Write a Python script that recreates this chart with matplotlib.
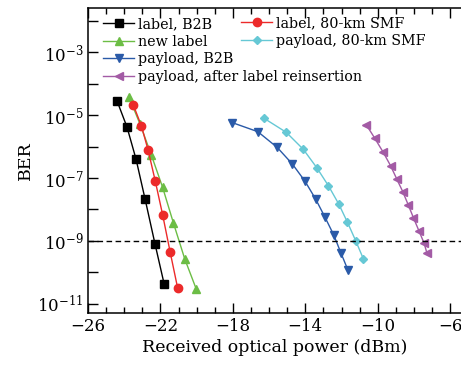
import numpy as np
import matplotlib; matplotlib.use("Agg")
import matplotlib.pyplot as plt
from matplotlib.ticker import FixedLocator, FuncFormatter, MultipleLocator

plt.rcParams["font.family"] = "DejaVu Serif"
plt.rcParams["mathtext.fontset"] = "dejavuserif"

# received optical power (dBm) and log10(BER)
label_b2b_x = [-24.4, -23.85, -23.35, -22.85, -22.3, -21.8]
label_b2b_y = [-4.55, -5.38, -6.40, -7.67, -9.10, -10.36]

label_smf_x = [-23.5, -23.05, -22.68, -22.29, -21.88, -21.47, -21.05]
label_smf_y = [-4.68, -5.35, -6.12, -7.09, -8.17, -9.34, -10.50]

new_label_x = [-23.73, -23.12, -22.51, -21.88, -21.29, -20.66, -20.03]
new_label_y = [-4.44, -5.30, -6.26, -7.30, -8.42, -9.57, -10.52]

payload_b2b_x = [-18.04, -16.62, -15.55, -14.71, -14.02, -13.42, -12.91, -12.43, -12.04, -11.65]
payload_b2b_y = [-5.24, -5.53, -6.03, -6.56, -7.10, -7.68, -8.25, -8.81, -9.37, -9.92]

payload_smf_x = [-16.29, -15.05, -14.11, -13.37, -12.72, -12.15, -11.67, -11.22, -10.80]
payload_smf_y = [-5.10, -5.55, -6.09, -6.67, -7.25, -7.83, -8.41, -8.99, -9.56]

reins_x = [-10.62, -10.16, -9.70, -9.29, -8.95, -8.62, -8.31, -8.03, -7.73, -7.44, -7.29]
reins_y = [-5.32, -5.74, -6.18, -6.61, -7.03, -7.43, -7.86, -8.26, -8.67, -9.07, -9.37]

fec_limit = 1e-9
x_ticks = [-26, -22, -18, -14, -10, -6]
y_exps = list(range(-2, -12, -1))
y_label_exps = [-3, -5, -7, -9, -11]

fig = plt.figure(figsize=(4.61, 3.65), dpi=100)
ax = fig.add_axes([0.191, 0.1425, 0.809, 0.8355])

ms = 6
lw = 1.0
series = [
    (label_b2b_x, label_b2b_y, "s", "#000000", "label, B2B"),
    (new_label_x, new_label_y, "^", "#6cbd45", "new label"),
    (payload_b2b_x, payload_b2b_y, "v", "#2a5aa8", "payload, B2B"),
    (reins_x, reins_y, "<", "#a35ba5", "payload, after label reinsertion"),
    (label_smf_x, label_smf_y, "o", "#ec2a2a", "label, 80-km SMF"),
    (payload_smf_x, payload_smf_y, "D", "#66c8d5", "payload, 80-km SMF"),
]
handles = []
for xs, ys, m, c, name in series:
    msz = ms - 1.5 if m == "D" else ms
    h, = ax.plot(xs, 10.0 ** np.array(ys), marker=m, color=c, lw=lw,
                 ms=msz, mec=c, label=name)
    handles.append(h)

ax.axhline(fec_limit, color="black", lw=1.0, ls=(0, (4, 2.5)))

ax.set_yscale("log")
ax.set_xlim(-26, -5.4)
ax.set_ylim(10 ** -11.29, 10 ** -1.6)

ax.set_xticks(x_ticks)
ax.xaxis.set_minor_locator(MultipleLocator(1))
ax.xaxis.set_major_formatter(FuncFormatter(lambda v, p: f"\u2212{abs(int(v))}" if v < 0 else f"{int(v)}"))
ax.yaxis.set_major_locator(FixedLocator([10.0 ** e for e in y_exps]))
ax.yaxis.set_minor_locator(FixedLocator([]))
ax.yaxis.set_major_formatter(FuncFormatter(
    lambda v, p: f"$10^{{{int(round(np.log10(v)))}}}$" if int(round(np.log10(v))) in y_label_exps else ""))

ax.tick_params(axis="both", which="both", direction="in", top=True, right=False,
               labelsize=12, width=1.0)
ax.tick_params(axis="both", which="major", length=7)
ax.tick_params(axis="x", which="minor", length=4.5)
ax.spines["right"].set_visible(False)
for s in ["left", "bottom", "top"]:
    ax.spines[s].set_linewidth(1.1)

ax.set_xlabel("Received optical power (dBm)", fontsize=12.5, labelpad=3)
ax.set_ylabel("BER", fontsize=12.5, labelpad=2)

leg_kw = dict(frameon=False, fontsize=10.3, handlelength=2.2, handletextpad=0.25,
              labelspacing=0.25, borderpad=0, borderaxespad=0, loc="upper left")
leg1 = ax.legend(handles=handles[:4], bbox_to_anchor=(0.04, 0.970), **leg_kw)
ax.add_artist(leg1)
ax.legend(handles=handles[4:], bbox_to_anchor=(0.41, 0.974), **leg_kw)

fig.savefig("out.png", dpi=100)
